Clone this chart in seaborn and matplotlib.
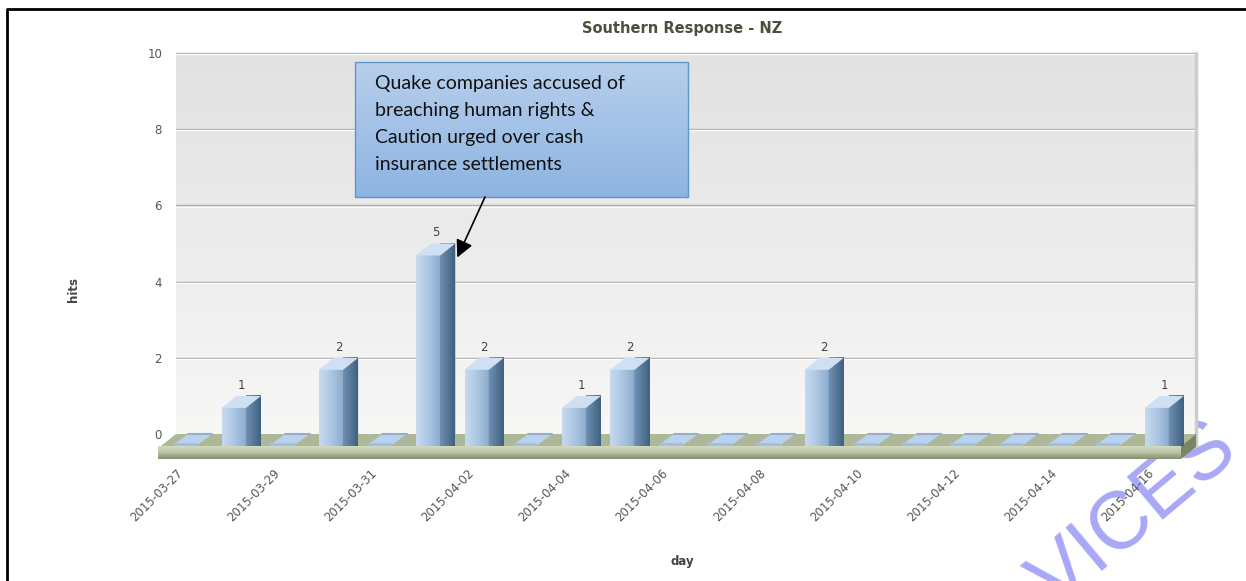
import numpy as np
import matplotlib
matplotlib.use("Agg")
import matplotlib.pyplot as plt
import matplotlib.transforms as mtransforms
from matplotlib.colors import LinearSegmentedColormap
from matplotlib.patches import Polygon, Rectangle
from matplotlib.lines import Line2D
import seaborn as sns
import pandas as pd

# data
days = ["2015-03-27", "2015-03-28", "2015-03-29", "2015-03-30", "2015-03-31",
        "2015-04-01", "2015-04-02", "2015-04-03", "2015-04-04", "2015-04-05",
        "2015-04-06", "2015-04-07", "2015-04-08", "2015-04-09", "2015-04-10",
        "2015-04-11", "2015-04-12", "2015-04-13", "2015-04-14", "2015-04-15",
        "2015-04-16"]
hits = [0, 1, 0, 2, 0, 5, 2, 0, 1, 2, 0, 0, 0, 2, 0, 0, 0, 0, 0, 0, 1]
y_ticks = [0, 2, 4, 6, 8, 10]
tick_days = days[::2]
title = "Southern Response - NZ"
note = ("Quake companies accused of\nbreaching human rights &\n"
        "Caution urged over cash\ninsurance settlements")
note_day = "2015-04-01"

W, H = 1246, 581
DX, DY = 15, 12          # fake 3d depth, pixels
IDT = mtransforms.IdentityTransform()

sns.set_theme(style="white")
plt.rcParams["font.family"] = ["DejaVu Sans"]

fig = plt.figure(figsize=(W / 100, H / 100), dpi=100)
ax = fig.add_axes([161 / W, (H - 446) / H, 1020 / W, 381 / H])

df = pd.DataFrame({"day": days, "hits": hits})
sns.barplot(data=df, x="day", y="hits", ax=ax, color="#a6c2df", width=0.5,
            saturation=1, errorbar=None, linewidth=0, zorder=3)
ax.set_xlim(-0.5, len(days) - 0.5)
ax.set_ylim(0, 10)
ax.set_autoscale_on(False)
ax.set_xlabel("")
ax.set_ylabel("")
ax.patch.set_visible(False)
for s in ax.spines.values():
    s.set_visible(False)


def px(x, y, back=False):
    p = ax.transData.transform((x, y))
    if back:
        p = p + np.array([DX, DY])
    return p


def gradient(extent, colors, horizontal=True, z=1, clip=None):
    cmap = LinearSegmentedColormap.from_list("g", colors)
    g = np.linspace(0, 1, 128)
    arr = g[None, :] if horizontal else g[:, None]
    im = ax.imshow(arr, extent=extent, transform=IDT, cmap=cmap, vmin=0, vmax=1,
                   aspect="auto", interpolation="bilinear", zorder=z, origin="lower")
    im.set_clip_on(False)
    if clip is not None:
        im.set_clip_path(clip)
    return im


x_lo, x_hi = -0.5, len(days) - 0.5

# back wall
bl = px(x_lo, 0, True)
tr = px(x_hi, 10, True)
gradient((bl[0], tr[0], bl[1], tr[1]), ["#f7f7f6", "#ececec", "#e2e2e2"],
         horizontal=False, z=0)
ax.add_line(Line2D([tr[0], tr[0]], [bl[1] - 12, tr[1]], transform=IDT,
                   color="#cccccc", lw=2.5, zorder=0.6, clip_on=False))
for v in y_ticks[1:]:
    a, b = px(x_lo, v, True), px(x_hi, v, True)
    ax.add_line(Line2D([a[0], b[0]], [a[1], b[1]], transform=IDT,
                       color="#ababab", lw=1, zorder=0.5, clip_on=False))
    ax.add_line(Line2D([a[0], b[0]], [a[1] - 1.2, b[1] - 1.2], transform=IDT,
                       color="#fcfcfc", lw=1, zorder=0.5, clip_on=False))

# floor
fl, fr = px(x_lo, 0), px(x_hi, 0)
bkl, bkr = px(x_lo, 0, True), px(x_hi, 0, True)
top = Polygon([fl, fr, bkr, bkl], closed=True, transform=IDT,
              facecolor="#aeb898", edgecolor="none", zorder=1, clip_on=False)
ax.add_patch(top)
gradient((fl[0] - 3, fr[0], fl[1] - 13, fl[1]), ["#858f70", "#b9c3a4", "#d2dac1"],
         horizontal=False, z=1.1)
cap = Polygon([fr, bkr, bkr - [0, 13], fr - [0, 13]], closed=True, transform=IDT,
              facecolor="#7c8667", edgecolor="none", zorder=1.1, clip_on=False)
ax.add_patch(cap)

# bars: seaborn front faces + side/top faces
for i, (p, v) in enumerate(zip(ax.patches, hits)):
    x0, w = p.get_x(), p.get_width()
    lb, rt = px(x0, 0), px(x0 + w, v)
    if v == 0:
        p.set_visible(False)
        slab = Polygon([lb + [0, 1], [rt[0], lb[1] + 1], [rt[0] + DX, lb[1] + DY],
                        [lb[0] + DX, lb[1] + DY]], closed=True, transform=IDT,
                       facecolor="#b9d2ee", edgecolor="none", zorder=2, clip_on=False)
        ax.add_patch(slab)
        ax.add_line(Line2D([lb[0] + DX, rt[0] + DX], [lb[1] + DY, lb[1] + DY],
                           transform=IDT, color="#98aec8", lw=1.5, zorder=2.1))
        ax.add_patch(Rectangle(lb, rt[0] - lb[0], 3, transform=IDT,
                               facecolor="#a2bfe3", edgecolor="none", zorder=2.2,
                               clip_on=False))
        continue
    gradient((lb[0], rt[0], lb[1], rt[1]), ["#c7dbef", "#abc6e2", "#8aaacb"], z=3.1)
    side = Polygon([[rt[0], lb[1]], [rt[0] + DX, lb[1] + DY], [rt[0] + DX, rt[1] + DY],
                    [rt[0], rt[1]]], closed=True, transform=IDT,
                   facecolor="#5a7c9f", edgecolor="none", zorder=3.2, clip_on=False)
    ax.add_patch(side)
    gradient((rt[0], rt[0] + DX, lb[1], rt[1] + DY), ["#6f90b2", "#40607f"],
             z=3.3, clip=side)
    lid = Polygon([[lb[0], rt[1]], [rt[0], rt[1]], [rt[0] + DX, rt[1] + DY],
                   [lb[0] + DX, rt[1] + DY]], closed=True, transform=IDT,
                  facecolor="#cfe0f2", edgecolor="none", zorder=3.4, clip_on=False)
    ax.add_patch(lid)
    ax.text((lb[0] + rt[0]) / 2 + DX / 2, rt[1] + DY + 4, str(v), transform=IDT,
            ha="center", va="bottom", fontsize=8.5, color="#444444", zorder=4)

# ticks
ax.set_yticks(y_ticks)
ax.set_yticklabels([str(v) for v in y_ticks])
ax.tick_params(axis="y", length=0, pad=10, labelsize=8.5, labelcolor="#555555")
shift = mtransforms.ScaledTranslation(DX / 100, DY / 100, fig.dpi_scale_trans)
for lab in ax.get_yticklabels():
    lab.set_transform(lab.get_transform() + shift)

ax.set_xticks(range(0, len(days), 2))
ax.set_xticklabels(tick_days, rotation=45, ha="right", va="top")
ax.tick_params(axis="x", length=0, pad=15, labelsize=8.5, labelcolor="#555555")

# titles
fig.text(682 / W, 1 - 28 / H, title, ha="center", va="center", fontsize=10.5,
         fontweight="bold", color="#4b4f3e")
fig.text(73 / W, 1 - 290 / H, "hits", ha="center", va="center", rotation=90,
         fontsize=8.5, fontweight="bold", color="#444444")
fig.text(682 / W, 1 - 562 / H, "day", ha="center", va="center", fontsize=8.5,
         fontweight="bold", color="#444444")

# callout box
bx0, bx1, by0, by1 = 355, 688, H - 197, H - 62
gradient((bx0, bx1, by0, by1), ["#8fb4e2", "#b6cfec"], horizontal=False, z=5)
ax.add_patch(Rectangle((bx0, by0), bx1 - bx0, by1 - by0, transform=IDT,
                       facecolor="none", edgecolor="#5f96d0", lw=1, zorder=5.1,
                       clip_on=False))
fig.text(375 / W, 1 - 75 / H, note, ha="left", va="top", fontsize=14,
         family=["Lato", "DejaVu Sans"], color="#111111", linespacing=1.72, zorder=6)
i5 = days.index(note_day)
tip = px(i5 + 0.25, hits[i5]) + [DX + 2, -2]
ax.annotate("", xy=tip, xycoords=IDT, xytext=(485, H - 197), textcoords=IDT,
            arrowprops=dict(arrowstyle="-|>", color="black", lw=1.2,
                            mutation_scale=26, shrinkA=0, shrinkB=0),
            zorder=6, annotation_clip=False)

# frame lines
fig.add_artist(Line2D([7 / W, 7 / W, 1], [0, 1 - 9 / H, 1 - 9 / H],
                      transform=fig.transFigure, color="black", lw=2))

# watermark (behind the chart)
fig.text(1135 / W, 1 - 515 / H, "VICES", ha="center", va="center",
         rotation=40, rotation_mode="anchor", fontsize=58, color="#8a8af4",
         alpha=0.75, family=["Liberation Sans", "DejaVu Sans"], zorder=-1)

fig.savefig("out.png", dpi=100)
